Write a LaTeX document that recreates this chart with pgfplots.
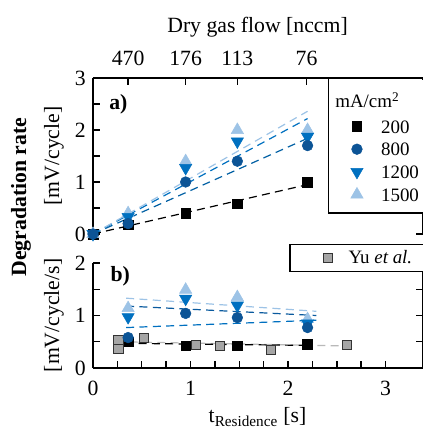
\documentclass[border=0pt]{standalone}
\usepackage{pgfplots}
\pgfplotsset{compat=1.18}
\usepackage{fontspec}
\setmainfont{Liberation Serif}
\definecolor{c800}{RGB}{12,84,150}
\definecolor{c1200}{RGB}{0,112,192}
\definecolor{c1500}{RGB}{157,195,230}
\definecolor{cyu}{RGB}{165,165,165}
\definecolor{cyul}{RGB}{185,185,185}
\newcommand{\legfont}{\fontsize{14.2}{16}\selectfont}
\begin{document}
\begin{tikzpicture}[font=\fontsize{16.3}{19}\selectfont]
\pgfplotsset{
  every axis/.append style={
    scale only axis, width=247.6pt, xmin=0, xmax=3.385,
    tick align=inside, major tick length=5pt, minor tick length=5pt,
    tick style={black, line width=1.1pt},
    axis line style={line width=1.5pt},
    /pgf/number format/assume math mode=true,
    yticklabel style={xshift=-2pt},
    clip=false,
  },
  fitline/.style={line width=0.9pt, dash pattern=on 6pt off 4pt, forget plot},
  mk/.style={only marks, forget plot},
}
% ---------------- panel a ----------------
\begin{axis}[at={(0,100.5pt)}, anchor=south west, height=117pt,
  ymin=0, ymax=3, axis x line*=top, axis y line*=box,
  xtick={0.36,0.95,1.48,2.19}, xticklabels={470,176,113,76},
  xticklabel style={yshift=6pt},
  ytick={0,1,2,3}, minor ytick={0.5,1.5,2.5},
  legend style={at={(axis cs:2.60,1.413)}, anchor=west, draw=none, fill=none,
    font=\legfont,
    column sep=12.5pt, row sep=5pt, nodes={inner sep=1pt, text height=10pt, text depth=0pt}},
  legend cell align=left]
\addplot[fitline, black] coordinates {(0,0) (2.2,0.95)};
\addplot[fitline, c1200!85!black] coordinates {(0,0) (2.2,1.84)};
\addplot[fitline, c1200] coordinates {(0,0) (2.2,2.22)};
\addplot[fitline, c1500] coordinates {(0,0) (2.2,2.36)};
\addplot[mk, mark=square*, mark size=3.6pt, black] coordinates {(0,0) (0.36,0.18) (0.95,0.4) (1.48,0.58) (2.2,1.0)};
\addplot[mk, mark=triangle*, mark size=5.3pt, c1500] coordinates {(0,0) (0.36,0.4) (0.95,1.4) (1.48,2.0) (2.2,2.0)};
\addplot[mk, mark=triangle*, mark size=5.3pt, mark options={rotate=180}, c1200] coordinates {(0,0) (0.36,0.33) (0.95,1.27) (1.48,1.78) (2.2,1.87)};
\addplot[mk, mark=*, mark size=4pt, c800] coordinates {(0,0) (0.36,0.2) (0.95,1.0) (1.48,1.4) (2.2,1.7)};
\fill[white] (axis cs:2.41,2.97) rectangle (axis cs:3.7,0.404);
\draw[line width=0.8pt] (axis cs:2.41,3) -- (axis cs:2.41,0.404) -- (axis cs:3.7,0.404);
\node[anchor=base west, inner sep=0pt, font=\legfont] at (axis cs:2.482,2.423) {mA/cm\textsuperscript{2}};
\node[font=\fontsize{16.3}{19}\selectfont\bfseries] at (axis cs:0.26,2.5) {a)};
\addlegendimage{only marks, mark=square*, mark size=3.6pt, black}
\addlegendentry{200}
\addlegendimage{only marks, mark=*, mark size=4pt, c800}
\addlegendentry{800}
\addlegendimage{only marks, mark=triangle*, mark size=5.3pt, mark options={rotate=180}, c1200}
\addlegendentry{1200}
\addlegendimage{only marks, mark=triangle*, mark size=5.3pt, c1500}
\addlegendentry{1500}
\end{axis}
% ---------------- panel b ----------------
\begin{axis}[at={(0,0)}, anchor=south west, height=78.75pt,
  ymin=0, ymax=2, axis x line*=bottom, axis y line*=box,
  xtick={0,1,2,3}, minor x tick num=3,
  xticklabel style={yshift=-6pt},
  ytick={0,1,2}, minor ytick={0.5,1.5},
  legend style={at={(axis cs:2.32,2.095)}, anchor=west, draw=none, fill=none,
    font=\legfont, column sep=11pt, nodes={inner sep=1pt}},
  legend cell align=left]
\addplot[fitline, cyul] coordinates {(0.25,0.5) (2.6,0.42)};
\addplot[fitline, black] coordinates {(0.33,0.47) (2.25,0.43)};
\addplot[fitline, c1200] coordinates {(0.34,0.77) (2.29,0.91)};
\addplot[fitline, c800!80!c1200] coordinates {(0.34,1.18) (2.29,1.0)};
\addplot[fitline, c1500] coordinates {(0.34,1.33) (2.29,1.08)};
\addplot[mk, mark=square*, mark size=3.6pt, black] coordinates {(0.36,0.5) (0.95,0.42) (1.48,0.42) (2.2,0.45)};
\addplot[mk, mark=square*, mark size=3.4pt, mark options={fill=cyu, draw=black!80, line width=0.5pt}] coordinates {(0.26,0.53) (0.26,0.36) (0.52,0.58) (1.05,0.45) (1.3,0.43) (1.82,0.34) (2.6,0.45)};
\addplot[mk, mark=triangle*, mark size=5.3pt, c1500] coordinates {(0.36,1.14) (0.95,1.49) (1.48,1.35) (2.2,0.93)};
\addplot[mk, mark=triangle*, mark size=5.3pt, mark options={rotate=180}, c1200] coordinates {(0.36,0.97) (0.95,1.32) (1.48,1.19) (2.2,0.85)};
\addplot[mk, mark=*, mark size=4pt, c800] coordinates {(0.36,0.58) (0.95,1.04) (1.48,0.96) (2.2,0.77)};
\fill[white] (axis cs:2.02,2.36) rectangle (axis cs:3.7,1.83);
\draw[line width=0.8pt] (axis cs:3.7,2.36) -- (axis cs:2.02,2.36) -- (axis cs:2.02,1.83) -- (axis cs:3.7,1.83);
\node[font=\fontsize{16.3}{19}\selectfont\bfseries] at (axis cs:0.28,1.75) {b)};
\addlegendimage{only marks, mark=square*, mark size=3.4pt, mark options={fill=cyu, draw=black!80, line width=0.5pt}}
\addlegendentry{Yu \textit{et al.}}
\end{axis}
% ---------------- labels ----------------
\node[anchor=base] at (123.4pt,251.25pt) {Dry gas flow [nccm]};
\node[anchor=base] at (123.4pt,-41.25pt) {t\textsubscript{Residence} [s]};
\node[rotate=90] at (-29.25pt,159pt) {[mV/cycle]};
\node[rotate=90] at (-29.25pt,39.4pt) {[mV/cycle/s]};
\node[rotate=90, font=\fontsize{16.3}{19}\selectfont\bfseries] at (-54pt,128.25pt) {Degradation rate};
\pgfresetboundingbox
\useasboundingbox (-69.75pt,-45pt) rectangle (246.75pt,276pt);
\end{tikzpicture}
\end{document}
